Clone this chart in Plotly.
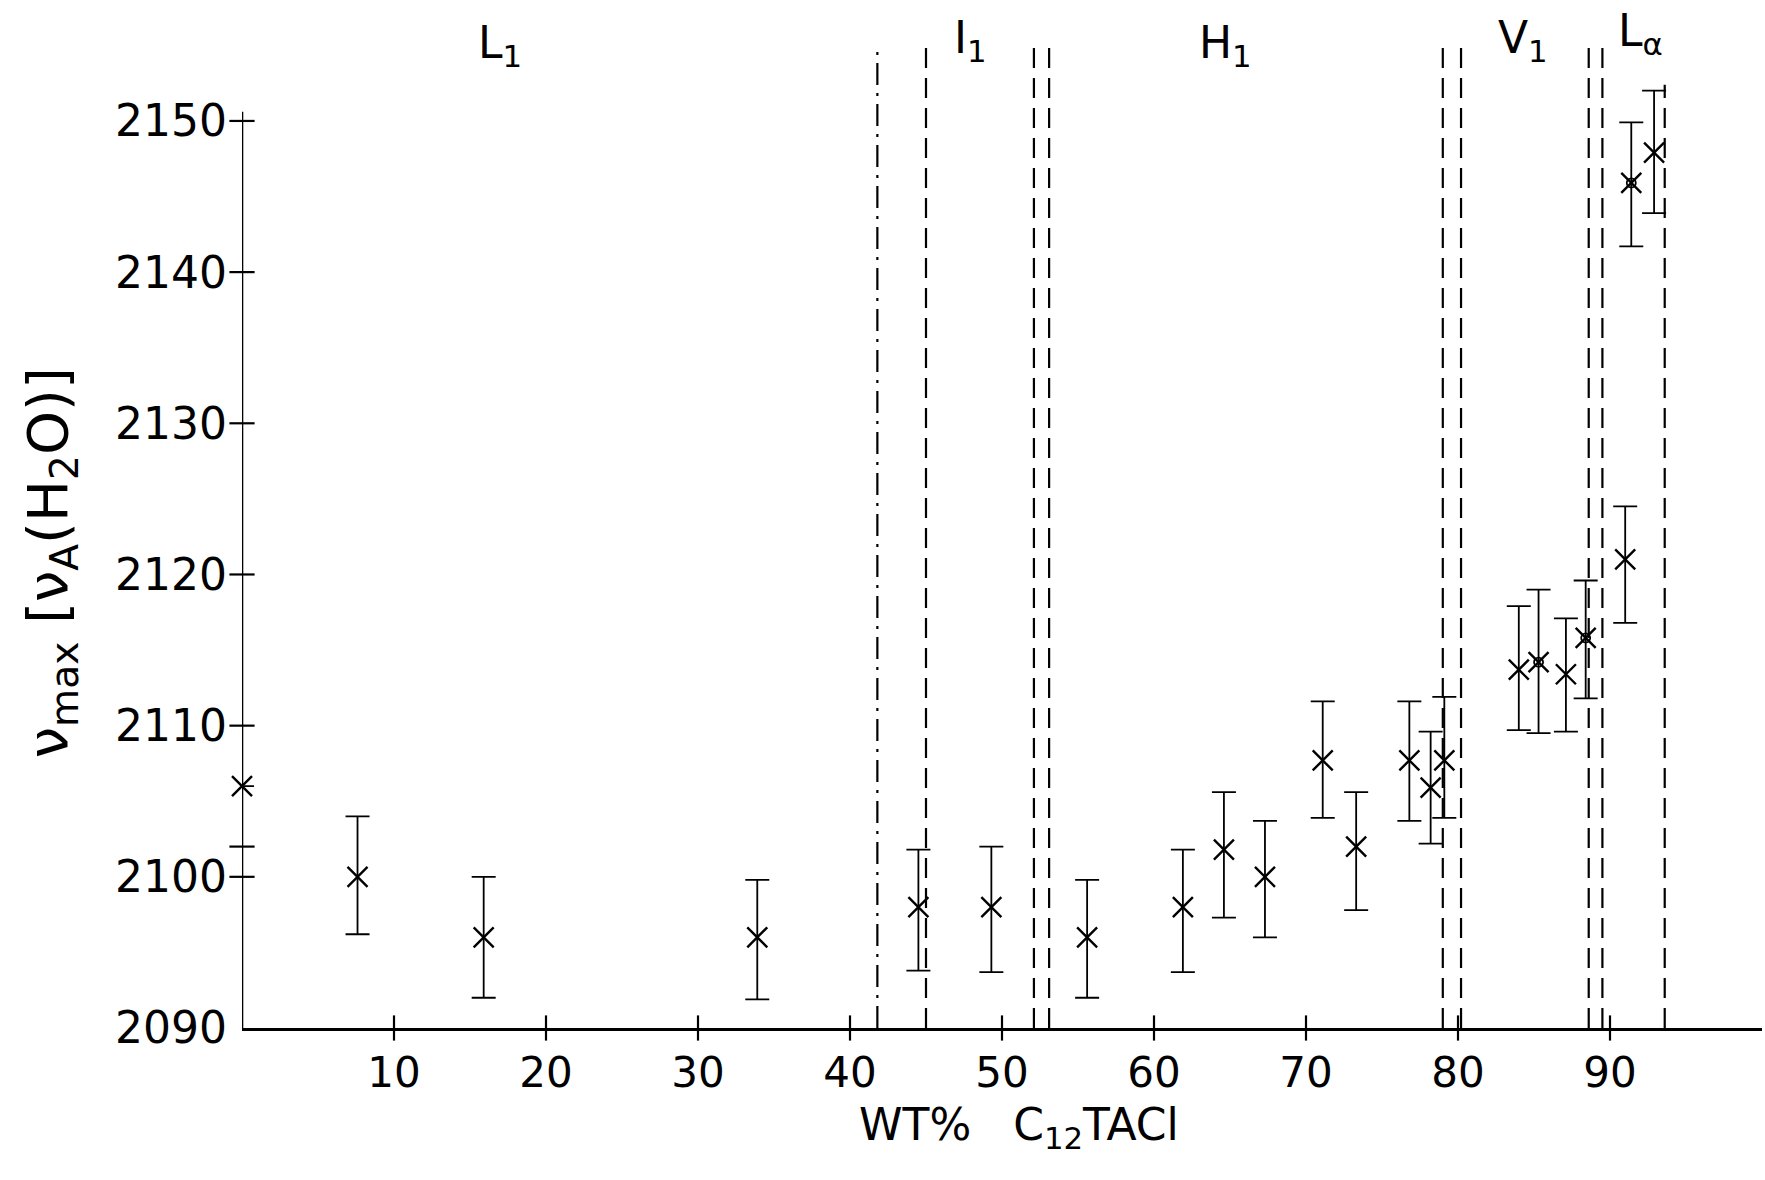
import plotly.graph_objects as go

# wt% C12TACl and band maximum of the water combination band (cm^-1)
wt_pct = [0.0, 7.6, 15.9, 33.9, 44.5, 49.3, 55.6, 61.9, 64.6, 67.3, 71.1, 73.3,
          76.8, 78.2, 79.1, 84.0, 85.3, 87.1, 88.4, 91.0, 91.4, 92.9]
nu_max = [2106.0, 2100.0, 2096.0, 2096.0, 2098.0, 2098.0, 2096.0, 2098.0, 2101.8, 2100.0, 2107.7, 2102.0,
          2107.7, 2105.9, 2107.7, 2113.7, 2114.2, 2113.4, 2115.8, 2121.0, 2145.9, 2147.9]
err_up = [0.0, 4.0, 4.0, 3.8, 3.8, 4.0, 3.8, 3.8, 3.8, 3.7, 3.9, 3.6,
          3.9, 3.7, 4.2, 4.2, 4.8, 3.7, 3.8, 3.5, 4.0, 4.1]
err_down = [0.0, 3.8, 4.0, 4.1, 4.2, 4.3, 4.0, 4.3, 4.5, 4.0, 3.8, 4.2,
            4.0, 3.7, 3.8, 4.0, 4.7, 3.8, 4.0, 4.2, 4.2, 4.0]
# samples drawn with an additional ring marker
circled = [False] * 16 + [True, False, True, False, True, False]

# phase boundaries (wt%) and the height the boundary lines reach
boundary_x = [41.8, 45.0, 52.1, 53.1, 79.0, 80.2, 88.6, 89.5, 93.6]
boundary_top = [2155.0, 2155.0, 2155.0, 2155.0, 2155.0, 2155.0, 2155.0, 2155.0, 2152.4]
boundary_dash = ["longdashdot", "dash", "dash", "dash", "dash", "dash", "dash", "dash", "dash"]

# phase region labels
phase_names = ["L<sub>1</sub>", "I<sub>1</sub>", "H<sub>1</sub>", "V<sub>1</sub>", "L<sub>α</sub>"]
phase_x = [17.0, 47.9, 64.7, 84.3, 92.0]
phase_y = [2155.0, 2155.3, 2155.0, 2155.3, 2155.8]

x_ticks = [10, 20, 30, 40, 50, 60, 70, 80, 90]
y_ticks = [2090, 2100, 2110, 2120, 2130, 2140, 2150]
y_tick_marks = [2100, 2102, 2110, 2120, 2130, 2140, 2150]

FONT = "DejaVu Sans, Liberation Sans, sans-serif"
INK = "black"

fig = go.Figure()

# phase boundary lines
dash_styles = {"dash": "20px,10px", "longdashdot": "22px,8px,3px,8px"}
for bx, top, ds in zip(boundary_x, boundary_top, boundary_dash):
    fig.add_trace(go.Scatter(
        x=[bx, bx], y=[2090, top], mode="lines",
        line=dict(color=INK, width=2.2, dash=dash_styles[ds]),
        hoverinfo="skip", showlegend=False, cliponaxis=False,
    ))

# crossing tick marks on both axes
fig.add_trace(go.Scatter(
    x=[0] * len(y_tick_marks), y=y_tick_marks, mode="markers",
    marker=dict(symbol="line-ew", size=18, line=dict(color=INK, width=2.2)),
    hoverinfo="skip", showlegend=False, cliponaxis=False,
))
fig.add_trace(go.Scatter(
    x=x_ticks, y=[2090] * len(x_ticks), mode="markers",
    marker=dict(symbol="line-ns", size=18, line=dict(color=INK, width=2.2)),
    hoverinfo="skip", showlegend=False, cliponaxis=False,
))

# measured band maxima with error bars
fig.add_trace(go.Scatter(
    x=wt_pct, y=nu_max, mode="markers",
    marker=dict(symbol="x-thin-open", size=20, color=INK, line=dict(color=INK, width=2.4)),
    error_y=dict(type="data", symmetric=False, array=err_up, arrayminus=err_down,
                 color=INK, thickness=1.8, width=12),
    showlegend=False, cliponaxis=False,
))
fig.add_trace(go.Scatter(
    x=[x for x, c in zip(wt_pct, circled) if c],
    y=[y for y, c in zip(nu_max, circled) if c],
    mode="markers",
    marker=dict(symbol="circle-open", size=9, color=INK, line=dict(color=INK, width=1.8)),
    showlegend=False, cliponaxis=False,
))

# y axis line (stops at the last labelled value)
fig.add_shape(type="line", xref="x", yref="y", x0=0, x1=0, y0=2090, y1=2150.6,
              line=dict(color=INK, width=2.6))

annotations = []
for name, px, py in zip(phase_names, phase_x, phase_y):
    annotations.append(dict(x=px, y=py, xref="x", yref="y", text=name, showarrow=False,
                            font=dict(family=FONT, size=44, color=INK)))
annotations.append(dict(
    x=-0.1257, y=2120.8, xref="paper", yref="y", textangle=-90, showarrow=False,
    xanchor="center", yanchor="middle",
    text="ν<sub>max</sub> [ν<sub>A</sub>(H<sub>2</sub>O)]",
    font=dict(family=FONT, size=56, color=INK),
))
annotations.append(dict(
    x=51.1, y=-0.097, xref="x", yref="paper", showarrow=False,
    xanchor="center", yanchor="middle",
    text="WT%&nbsp;&nbsp;&nbsp;C<sub>12</sub>TACl",
    font=dict(family=FONT, size=44, color=INK),
))

fig.update_layout(
    width=1765, height=1180,
    margin=dict(l=242, r=3, t=0, b=152),
    paper_bgcolor="white", plot_bgcolor="white",
    annotations=annotations,
    xaxis=dict(range=[0, 100], tickvals=x_ticks, ticktext=[str(v) for v in x_ticks],
               showgrid=False, zeroline=False, showline=True, linecolor=INK, linewidth=2.6,
               ticks="", ticklabelstandoff=6,
               tickfont=dict(family=FONT, size=42, color=INK)),
    yaxis=dict(range=[2090, 2158], tickvals=y_ticks, ticktext=[str(v) for v in y_ticks],
               showgrid=False, zeroline=False, showline=False,
               ticks="", ticklabelstandoff=14,
               tickfont=dict(family=FONT, size=44, color=INK)),
)

fig.write_html("out.html")
